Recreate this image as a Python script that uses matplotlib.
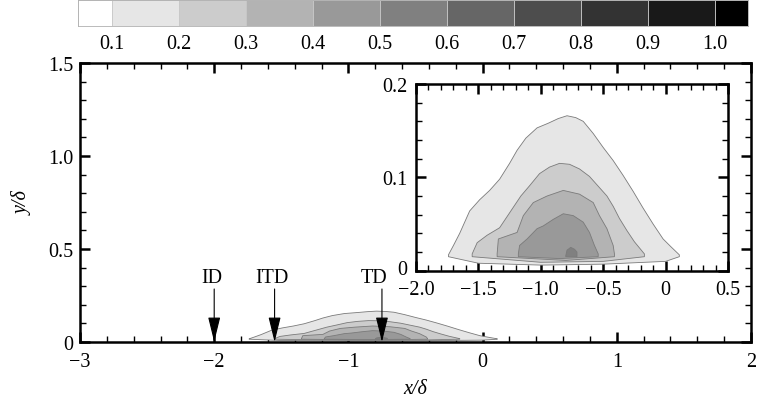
import matplotlib
matplotlib.use('Agg')
import matplotlib.pyplot as plt
import matplotlib.transforms as mtransforms
import numpy as np
from matplotlib.ticker import MultipleLocator, FixedLocator, FuncFormatter

plt.rcParams['font.family'] = ['Liberation Serif', 'DejaVu Serif']
plt.rcParams['font.size'] = 14.5

# ---------------- data ----------------
cbar_levels = [0.0, 0.1, 0.2, 0.3, 0.4, 0.5, 0.6, 0.7, 0.8, 0.9, 1.0]
cbar_ticks = [0.1, 0.2, 0.3, 0.4, 0.5, 0.6, 0.7, 0.8, 0.9, 1.0]
cbar_ticklabels = ['0.1', '0.2', '0.3', '0.4', '0.5', '0.6', '0.7', '0.8', '0.9', '1.0']

# contour level 0.1 (outermost)
c1_top_x = [-1.74, -1.70, -1.65, -1.57, -1.49, -1.41, -1.33, -1.25, -1.19, -1.12, -1.03, -0.94, -0.86,
            -0.79, -0.72, -0.66, -0.58, -0.50, -0.42, -0.34, -0.26, -0.18, -0.10, -0.02, 0.04, 0.11]
c1_top_y = [0.017, 0.027, 0.040, 0.064, 0.076, 0.086, 0.098, 0.115, 0.129, 0.142, 0.153, 0.158, 0.163,
            0.166, 0.164, 0.160, 0.147, 0.132, 0.118, 0.102, 0.085, 0.067, 0.050, 0.034, 0.026, 0.017]
c1_bot_x = [0.11, 0.0, -0.5, -1.0, -1.5, -1.74]
c1_bot_y = [0.015, 0.010, 0.007, 0.006, 0.008, 0.015]

# contour level 0.2
c2_top_x = [-1.55, -1.51, -1.43, -1.33, -1.29, -1.24, -1.16, -1.09, -1.01, -0.93, -0.85, -0.77, -0.69,
            -0.61, -0.53, -0.47, -0.42, -0.37, -0.31, -0.25, -0.17]
c2_top_y = [0.018, 0.030, 0.038, 0.046, 0.054, 0.064, 0.080, 0.091, 0.104, 0.111, 0.115, 0.114, 0.109,
            0.101, 0.089, 0.080, 0.069, 0.056, 0.043, 0.031, 0.018]
c2_bot_x = [-0.17, -0.5, -1.0, -1.55]
c2_bot_y = [0.015, 0.010, 0.009, 0.015]

# contour level 0.3
c3_top_x = [-1.35, -1.34, -1.19, -1.14, -1.06, -0.95, -0.82, -0.69, -0.58, -0.53, -0.47, -0.42, -0.41]
c3_top_y = [0.018, 0.034, 0.041, 0.059, 0.073, 0.080, 0.086, 0.082, 0.073, 0.059, 0.045, 0.027, 0.018]
c3_bot_x = [-0.41, -0.8, -1.35]
c3_bot_y = [0.015, 0.011, 0.015]

# contour level 0.4
c4_top_x = [-1.18, -1.17, -1.11, -1.03, -0.98, -0.90, -0.82, -0.74, -0.66, -0.61, -0.57, -0.54]
c4_top_y = [0.018, 0.027, 0.034, 0.045, 0.048, 0.055, 0.061, 0.059, 0.052, 0.041, 0.027, 0.018]
c4_bot_x = [-0.54, -0.85, -1.18]
c4_bot_y = [0.015, 0.013, 0.015]

# contour level 0.5 (small core)
c5_top_x = [-0.80, -0.79, -0.76, -0.73, -0.71, -0.71]
c5_top_y = [0.016, 0.022, 0.025, 0.023, 0.020, 0.016]
c5_bot_x = [-0.71, -0.80]
c5_bot_y = [0.015, 0.015]

contour_levels = [0.1, 0.2, 0.3, 0.4, 0.5]
contours = [
    (c1_top_x, c1_top_y, c1_bot_x, c1_bot_y),
    (c2_top_x, c2_top_y, c2_bot_x, c2_bot_y),
    (c3_top_x, c3_top_y, c3_bot_x, c3_bot_y),
    (c4_top_x, c4_top_y, c4_bot_x, c4_bot_y),
    (c5_top_x, c5_top_y, c5_bot_x, c5_bot_y),
]

arrow_x = [-2.0, -1.55, -0.75]
arrow_labels = ['ID', 'ITD', 'TD']

main_xticks = [-3, -2, -1, 0, 1, 2]
main_yticks = [0, 0.5, 1.0, 1.5]
main_yticklabels = ['0', '0.5', '1.0', '1.5']
inset_xticks = [-2.0, -1.5, -1.0, -0.5, 0, 0.5]
inset_xticklabels = ['\u22122.0', '\u22121.5', '\u22121.0', '\u22120.5', '0', '0.5']
inset_yticks = [0, 0.1, 0.2]
inset_yticklabels = ['0', '0.1', '0.2']

# ---------------- figure ----------------
W, H = 757, 402
fig = plt.figure(figsize=(W / 100, H / 100), dpi=100)


def gray(level):
    g = 1.0 - level
    return (g, g, g)


def style_axes(ax, xmaj, xmin, ymaj, ymin):
    for s in ax.spines.values():
        s.set_linewidth(1.8)
        s.set_color('black')
    ax.xaxis.set_major_locator(FixedLocator(xmaj))
    ax.yaxis.set_major_locator(FixedLocator(ymaj))
    ax.xaxis.set_minor_locator(MultipleLocator(xmin))
    ax.yaxis.set_minor_locator(MultipleLocator(ymin))
    ax.tick_params(which='both', direction='in', top=True, right=True)
    ax.tick_params(which='major', length=7, width=1.8, pad=5)
    ax.tick_params(which='minor', length=4, width=1.0)


def draw_contours(ax):
    for lev, (tx, ty, bx, by) in zip(contour_levels, contours):
        px = np.concatenate([tx, bx])
        py = np.concatenate([ty, by])
        ax.fill(px, py, facecolor=gray(lev), edgecolor='#7a7a7a', linewidth=0.6, zorder=2)


# main axes
ax = fig.add_axes([80 / W, (H - 343) / H, 671 / W, 279 / H])
ax.set_xlim(-3, 2)
ax.set_ylim(0, 1.5)
style_axes(ax, main_xticks, 0.2, main_yticks, 0.1)
ax.xaxis.set_major_formatter(FuncFormatter(lambda v, p: ('%d' % v).replace('-', '\u2212')))
ax.set_yticklabels(main_yticklabels)
ax.tick_params(axis='x', which='major', pad=7)
draw_contours(ax)

text_dx = [-2.5, -2.5, -8]  # pixel offsets of labels
for xa, lab, dx in zip(arrow_x, arrow_labels, text_dx):
    ax.annotate('', xy=(xa, 0.0), xytext=(xa, 0.285),
                arrowprops=dict(arrowstyle='-|>,head_length=1.55,head_width=0.38',
                                color='black', lw=0.8, shrinkA=0, shrinkB=0,
                                mutation_scale=10), zorder=4)
    ax.annotate(lab, xy=(xa, 0.345), xytext=(dx * 0.72, 0), textcoords='offset points',
                ha='center', va='center', fontsize=14.5)

ax.set_xlabel('x/\u03b4', fontstyle='italic', fontsize=14.5)
ax.set_ylabel('y/\u03b4', fontstyle='italic', fontsize=14.5)
ax.xaxis.set_label_coords(0.5, -0.133)
ax.yaxis.set_label_coords(-0.07, 0.5)

# inset
axin = fig.add_axes([416 / W, (H - 271.7) / H, 312 / W, 186.7 / H])
axin.set_facecolor('white')
axin.set_xlim(-2.0, 0.5)
axin.set_ylim(0, 0.2)
style_axes(axin, inset_xticks, 0.1, inset_yticks, 0.02)
axin.set_xticklabels(inset_xticklabels)
axin.set_yticklabels(inset_yticklabels)
axin.tick_params(axis='y', which='major', pad=6)
axin.tick_params(axis='x', which='major', pad=6.5)
# lift the inset's "0" label a little, as in the original
zero_lab = axin.get_yticklabels()[0]
zero_lab.set_transform(zero_lab.get_transform() +
                       mtransforms.ScaledTranslation(0, 4 / 100, fig.dpi_scale_trans))
draw_contours(axin)

# colour bar
cax = fig.add_axes([78.3 / W, (H - 26.7) / H, 670 / W, 25.7 / H])
bounds = [0.05] + cbar_ticks + [1.05]
for i, lev in enumerate(cbar_levels):
    cax.axvspan(bounds[i], bounds[i + 1], facecolor=gray(lev), edgecolor='#c8c8c8', linewidth=0.6)
cax.set_xlim(0.05, 1.05)
cax.set_ylim(0, 1)
cax.set_yticks([])
cax.set_xticks(cbar_ticks)
cax.set_xticklabels(cbar_ticklabels)
cax.tick_params(axis='x', length=0, pad=6)
for s in cax.spines.values():
    s.set_linewidth(0.6)
    s.set_color('#b0b0b0')

fig.savefig('out.png', dpi=100)
